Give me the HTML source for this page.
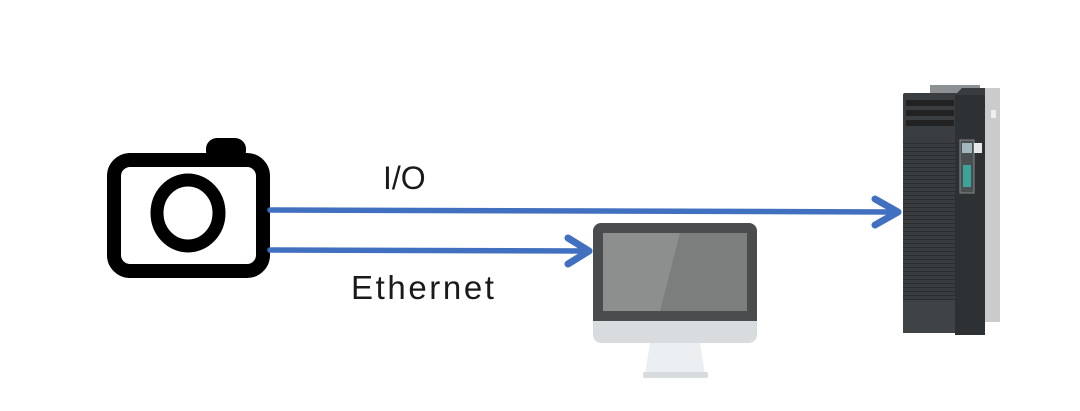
<!DOCTYPE html>
<html><head><meta charset="utf-8">
<style>
html,body{margin:0;padding:0;background:#fff;}
svg{display:block;}
text{font-family:"Liberation Sans",sans-serif;fill:#1a1a1a;}
</style></head>
<body>
<svg width="1080" height="411" viewBox="0 0 1080 411" xmlns="http://www.w3.org/2000/svg">
<defs>
<pattern id="vent" width="10" height="4" patternUnits="userSpaceOnUse">
<rect width="10" height="4" fill="#3a3d3f"/><rect y="3" width="10" height="1" fill="#2a2c2e"/>
</pattern>
</defs>

<!-- Camera -->
<rect x="206" y="138" width="40" height="24" rx="11" fill="#000"/>
<rect x="114" y="160" width="149" height="111" rx="16" fill="#fff" stroke="#000" stroke-width="14"/>
<ellipse cx="188" cy="213" rx="31" ry="33" fill="none" stroke="#000" stroke-width="13"/>

<!-- Lines -->
<g stroke="#4270c0" stroke-width="5.5" fill="none" stroke-linecap="round" stroke-linejoin="round">
<path d="M270 210 L600 211 L895 212"/>
<path d="M875 199 L898 212 L875 225" stroke-width="7"/>
<path d="M270 250 L586 251"/>
<path d="M568 238 L589 251 L568 264" stroke-width="7"/>
</g>

<text x="383" y="189" font-size="32">I/O</text>
<text x="351" y="299" font-size="33" letter-spacing="2.6">Ethernet</text>

<!-- Monitor -->
<path d="M650 343 L700 343 L705 373 L645 373 Z" fill="#eceff1"/>
<rect x="643" y="372" width="65" height="6" rx="2" fill="#d8dcdf"/>
<rect x="593" y="223" width="164" height="120" rx="8" fill="#d9dcde"/>
<path d="M601 223 H749 A8 8 0 0 1 757 231 V321 H593 V231 A8 8 0 0 1 601 223 Z" fill="#4a4c4d"/>
<rect x="603" y="233" width="144" height="78" fill="#7b7e7d"/>
<path d="M603 233 L680 233 L660 311 L603 311 Z" fill="#8c8f8e"/>

<!-- Drive -->
<rect x="985" y="88" width="15" height="234" fill="#c9cbcd"/>
<rect x="930" y="85" width="50" height="10" fill="#8d9194"/>
<rect x="903" y="93" width="55" height="240" rx="2" fill="#3b3e40"/>
<rect x="903" y="140" width="55" height="160" fill="url(#vent)"/>
<rect x="906" y="100" width="48" height="6" fill="#222"/>
<rect x="906" y="110" width="48" height="6" fill="#222"/>
<rect x="906" y="120" width="48" height="6" fill="#222"/>
<rect x="903" y="300" width="52" height="33" fill="#404345"/>
<rect x="955" y="95" width="30" height="240" fill="#2e3133"/>
<path d="M955 95 L962 88 L985 88 L985 95 Z" fill="#3a3d3f"/>
<rect x="960" y="140" width="14" height="53" fill="#4a4f52" stroke="#888" stroke-width="1"/>
<rect x="962" y="143" width="10" height="10" fill="#9fb7bd"/>
<rect x="963" y="165" width="8" height="22" fill="#3aa39a"/>
<rect x="974" y="143" width="8" height="10" fill="#e8e8e8"/>
<rect x="991" y="110" width="5" height="8" fill="#eee"/>
</svg>
</body></html>
